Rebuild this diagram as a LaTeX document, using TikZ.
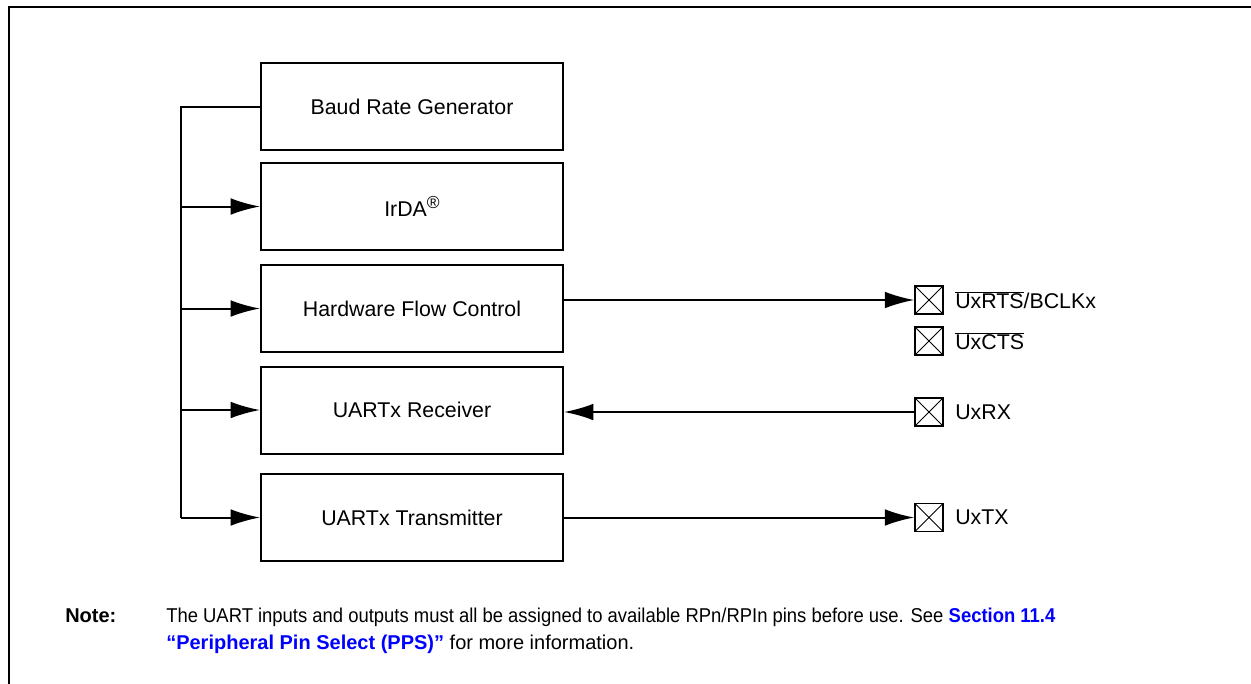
\documentclass[tikz,border=0pt]{standalone}
\usepackage{fontspec}
\setmainfont{Liberation Sans}
\usetikzlibrary{arrows.meta}
\definecolor{linkblue}{RGB}{0,0,255}
\begin{document}
\begin{tikzpicture}[x=0.75pt,y=-0.75pt,
  frame/.style={line width=1.8pt},
  blk/.style={draw, line width=1.5pt, minimum width=226.5pt, minimum height=65.25pt, inner sep=0pt,
    font=\fontsize{16}{19}\selectfont},
  pin/.style={draw, line width=1.2pt, minimum size=21pt, inner sep=0pt,
    path picture={\draw[line width=0.7pt] (path picture bounding box.south west)--(path picture bounding box.north east)
      (path picture bounding box.north west)--(path picture bounding box.south east);}},
  pinlabel/.style={anchor=west, inner sep=0pt, font=\fontsize{16}{19}\selectfont},
  conn/.style={line width=1.5pt},
  arr/.style={line width=1.5pt, -{Latex[length=22pt, width=12.5pt]}},
  notefont/.style={font=\fontsize{15}{18}\selectfont, inner sep=0pt, anchor=base west}
]
\useasboundingbox (0,0) rectangle (1251,683);
\fill[white] (0,0) rectangle (1251,683);
\draw[frame] (9,690) -- (9,7) -- (1260,7);

% blocks
\node[blk] (brg) at (412,106.5) {Baud Rate Generator};
\node[blk] (irda) at (412,206.5) {IrDA\raisebox{5.5pt}{\fontsize{13}{13}\selectfont\textregistered}};
\node[blk] (hfc) at (412,308.5) {Hardware Flow Control};
\node[blk] (rx) at (412,410) {UARTx Receiver};
\node[blk] (tx) at (412,517.5) {UARTx Transmitter};

% bus
\coordinate (bustop) at (181,106.5);
\coordinate (busbot) at (181,517.5);
\draw[conn] (brg.west) -- (bustop) -- (busbot);
\draw[arr] (bustop |- irda.west) -- (irda.west);
\draw[arr] (bustop |- hfc.west) -- (hfc.west);
\draw[arr] (bustop |- rx.west) -- (rx.west);
\draw[arr] (busbot) -- (tx.west);

% pins
\node[pin] (prts) at (929,300) {};
\node[pin] (pcts) at (929,341) {};
\node[pin] (prx) at (929,412) {};
\node[pin] (ptx) at (929,517.5) {};
\node[pinlabel] (lrts) at (955,300) {$\overline{\mbox{UxRTS}}$/BCLKx};
\node[pinlabel] (lcts) at (955,341) {$\overline{\mbox{UxCTS}}$};
\node[pinlabel] (lrx) at (955,412) {UxRX};
\node[pinlabel] (ltx) at (955,517.5) {UxTX};

\draw[arr] (prts.west -| hfc.east) -- (prts.west);
\draw[arr] (prx.west) -- (prx.west -| rx.east);
\draw[arr] (ptx.west -| tx.east) -- (ptx.west);

% note
\node[notefont, font=\fontsize{15}{18}\selectfont\bfseries] (notelbl) at (65,622) {Note:};
\node[notefont] (note1) at (166,622) {\scalebox{0.922}[1]{The UART inputs and outputs must all be assigned to available RPn/RPIn pins before use. See \textcolor{linkblue}{\bfseries Section 11.4}}};
\node[notefont] (note2) at (166,649) {\textcolor{linkblue}{\bfseries “Peripheral Pin Select (PPS)”} for more information.};
\end{tikzpicture}
\end{document}
